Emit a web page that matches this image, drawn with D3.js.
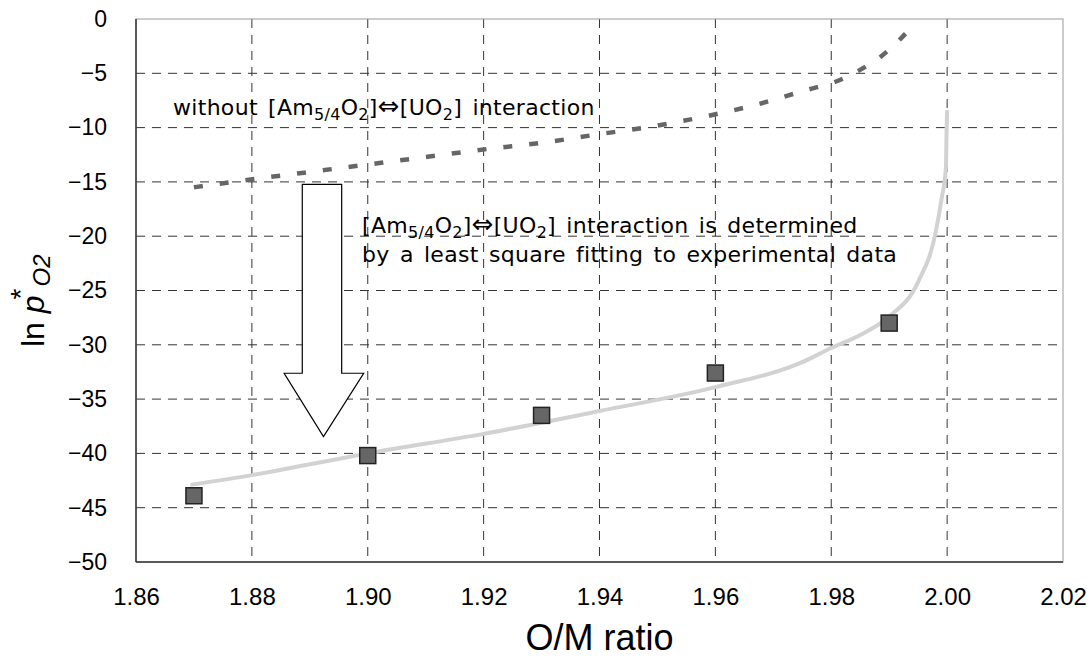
<!DOCTYPE html>
<html>
<head>
<meta charset="utf-8">
<script src="https://cdn.jsdelivr.net/npm/d3@7"></script>
<style>
  body { margin: 0; background: #fff; }
  svg { display: block; }
  .tick-label { font-family: "Liberation Sans", Arial, sans-serif; font-size: 23px; fill: #000; }
  .note { font-family: "DejaVu Sans", sans-serif; font-size: 22px; word-spacing: 3px; letter-spacing: 0.3px; fill: #000; }
</style>
</head>
<body>
<svg width="1090" height="662"></svg>
<script>
// axis ticks
const xTicks = [1.86, 1.88, 1.90, 1.92, 1.94, 1.96, 1.98, 2.00, 2.02];
const yTicks = [0, -5, -10, -15, -20, -25, -30, -35, -40, -45, -50];

// experimental points
const expX = [1.87, 1.90, 1.93, 1.96, 1.99];
const expY = [-43.9, -40.2, -36.5, -32.6, -28.0];

// fitted curve (with interaction)
const fitX = [1.8694, 1.88, 1.89, 1.90, 1.92, 1.94, 1.96, 1.975, 1.98, 1.985, 1.99, 1.995, 1.998, 1.999, 1.9998, 1.9999, 2.0];
const fitY = [-42.9, -42.0, -41.0, -40.0, -38.2, -36.1, -33.9, -31.6, -30.3, -29.1, -27.4, -24.2, -19.7, -16.7, -13.6, -10.5, -8.4];

// curve without interaction
const noX = [1.870, 1.8795, 1.889, 1.8985, 1.908, 1.921, 1.930, 1.94, 1.949, 1.958, 1.967, 1.976, 1.9806, 1.9846, 1.9887, 1.992, 1.9947];
const noY = [-15.5, -14.8, -14.15, -13.5, -12.85, -11.95, -11.4, -10.6, -9.9, -9.0, -7.9, -6.5, -5.8, -4.8, -3.4, -1.8, -0.25];

// big downward arrow outline (data coords)
const arrowX = [1.8887, 1.8955, 1.8955, 1.8993, 1.89236, 1.88557, 1.8887];
const arrowY = [-15.22, -15.22, -32.62, -32.62, -38.46, -32.62, -32.62];

const margin = {top: 19, right: 27, bottom: 100, left: 136};
const W = 1090, H = 662;
const width = W - margin.left - margin.right;
const height = H - margin.top - margin.bottom;

const svg = d3.select("svg");
const g = svg.append("g").attr("transform", `translate(${margin.left},${margin.top})`);

const x = d3.scaleLinear().domain([1.86, 2.02]).range([0, width]);
const y = d3.scaleLinear().domain([-50, 0]).range([height, 0]);

// grid
g.selectAll(".hgrid").data(yTicks.filter(d => d > -50 && d < 0)).enter().append("line")
  .attr("x1", 0).attr("x2", width)
  .attr("y1", d => y(d)).attr("y2", d => y(d))
  .attr("stroke", "#333").attr("stroke-width", 1).attr("stroke-dasharray", "9,7");
g.selectAll(".vgrid").data(xTicks.filter(d => d > 1.86 && d < 2.02)).enter().append("line")
  .attr("x1", d => x(d)).attr("x2", d => x(d))
  .attr("y1", 0).attr("y2", height)
  .attr("stroke", "#333").attr("stroke-width", 1).attr("stroke-dasharray", "9,7");

// frame
g.append("rect").attr("width", width).attr("height", height)
  .attr("fill", "none").attr("stroke", "#999").attr("stroke-width", 1);
g.append("line").attr("x1", 0).attr("x2", 0).attr("y1", 0).attr("y2", height)
  .attr("stroke", "#333").attr("stroke-width", 1.5);
g.append("line").attr("x1", 0).attr("x2", width).attr("y1", height).attr("y2", height)
  .attr("stroke", "#333").attr("stroke-width", 1.5);

// axes labels
const yAxis = g.append("g").call(d3.axisLeft(y).tickValues(yTicks).tickSize(0).tickPadding(29));
yAxis.select(".domain").remove();
yAxis.selectAll("text").attr("class", "tick-label");

const xAxis = g.append("g").attr("transform", `translate(0,${height})`)
  .call(d3.axisBottom(x).tickValues(xTicks).tickSize(0).tickPadding(26).tickFormat(d3.format(".2f")));
xAxis.select(".domain").remove();
xAxis.selectAll("text").attr("class", "tick-label").style("font-size", "24px");

// without interaction (dashed)
const line = d3.line().x(d => x(d[0])).y(d => y(d[1])).curve(d3.curveMonotoneX);
g.append("path").datum(noX.map((v, i) => [v, noY[i]]))
  .attr("d", line).attr("fill", "none")
  .attr("stroke", "#666").attr("stroke-width", 4.5).attr("stroke-dasharray", "9,17");

// fitted curve
g.append("path").datum(fitX.map((v, i) => [v, fitY[i]]))
  .attr("d", line).attr("fill", "none")
  .attr("stroke", "#d2d2d2").attr("stroke-width", 4);

// experimental markers
const s = 16;
g.selectAll(".pt").data(expX.map((v, i) => [v, expY[i]])).enter().append("rect")
  .attr("x", d => x(d[0]) - s / 2).attr("y", d => y(d[1]) - s / 2)
  .attr("width", s).attr("height", s)
  .attr("fill", "#666").attr("stroke", "#222").attr("stroke-width", 1.5);

// arrow
g.append("path")
  .attr("d", d3.line()(arrowX.map((v, i) => [x(v), y(arrowY[i])])) + "Z")
  .attr("fill", "#fff").attr("stroke", "#000").attr("stroke-width", 1.2);

// notes
function formula(t) {
  t.append("tspan").text("[Am");
  t.append("tspan").attr("dy", 5).style("font-size", "16px").text("5/4");
  t.append("tspan").attr("dy", -5).text("O");
  t.append("tspan").attr("dy", 5).style("font-size", "16px").text("2");
  t.append("tspan").attr("dy", -5).text("]");
  t.append("tspan").style("font-size", "26px").text("⇔");
  t.append("tspan").text("[UO");
  t.append("tspan").attr("dy", 5).style("font-size", "16px").text("2");
  t.append("tspan").attr("dy", -5).text("]");
}
const n1 = svg.append("text").attr("class", "note").attr("x", 173).attr("y", 115);
n1.append("tspan").text("without ");
formula(n1);
n1.append("tspan").text(" interaction");

const n2 = svg.append("text").attr("class", "note").attr("x", 362).attr("y", 233);
formula(n2);
n2.append("tspan").text(" interaction is determined");

svg.append("text").attr("class", "note").attr("x", 362).attr("y", 262)
  .text("by a least square fitting to experimental data");

// axis titles
svg.append("text").attr("x", margin.left + width / 2).attr("y", 650)
  .attr("text-anchor", "middle")
  .style("font-family", "Liberation Sans, Arial, sans-serif").style("font-size", "36px")
  .text("O/M ratio");

const yl = svg.append("text").attr("transform", "translate(44,347) rotate(-90)")
  .style("font-family", "Liberation Sans, Arial, sans-serif").style("font-size", "32px");
yl.append("tspan").text("ln ");
yl.append("tspan").style("font-style", "italic").text("p");
yl.append("tspan").attr("dy", -14).attr("dx", -4).style("font-size", "28px").text("*");
yl.append("tspan").attr("dy", 20).attr("dx", 2).style("font-style", "italic").style("font-size", "24px").text("O2");
</script>
</body>
</html>
